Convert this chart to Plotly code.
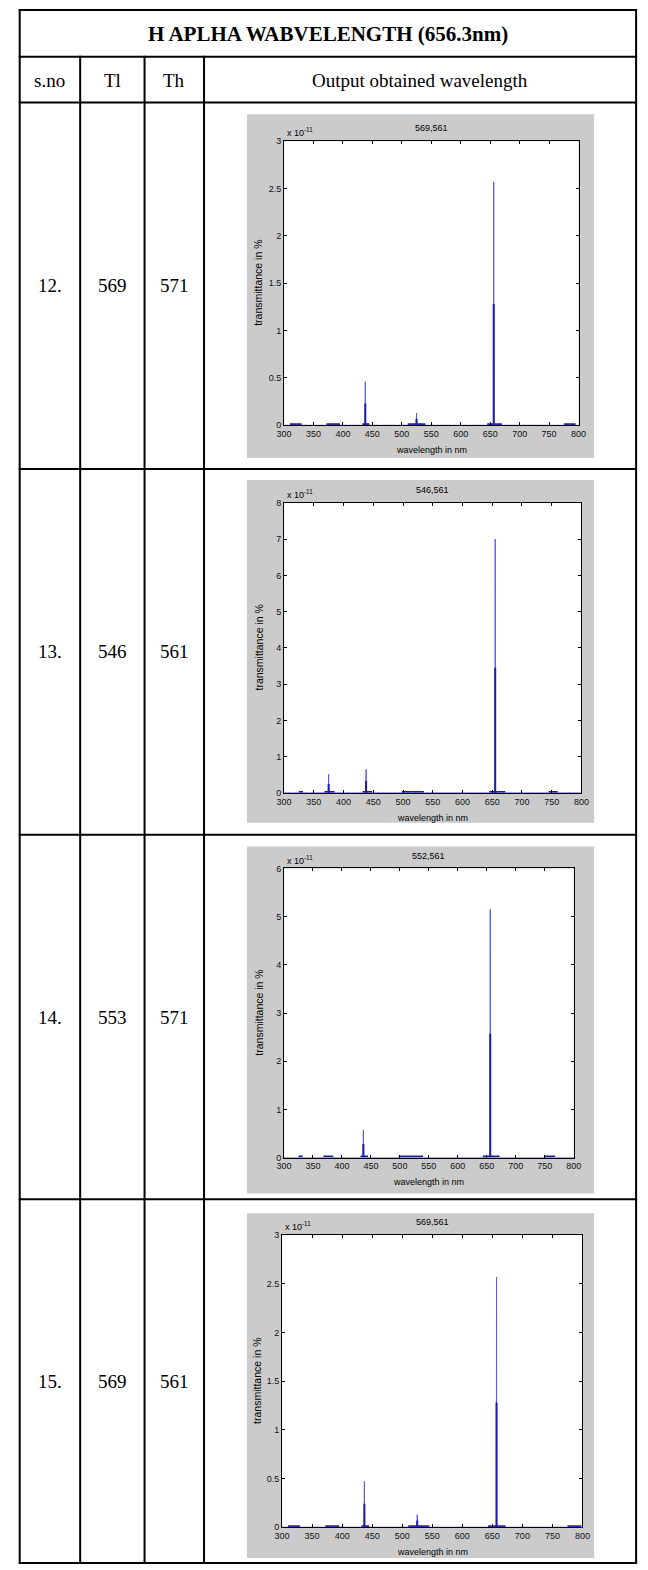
import plotly.graph_objects as go

W, H = 648, 1570

# ---------------- data ----------------
table_title = "H APLHA WABVELENGTH (656.3nm)"
headers = ["s.no", "Tl", "Th", "Output obtained wavelength"]
sno = ["12.", "13.", "14.", "15."]
tl = ["569", "546", "553", "569"]
th = ["571", "561", "571", "561"]

plot_titles = ["569,561", "546,561", "552,561", "569,561"]
y_max = [3, 8, 6, 3]
y_ticks = [
    [0, 0.5, 1, 1.5, 2, 2.5, 3],
    [0, 1, 2, 3, 4, 5, 6, 7, 8],
    [0, 1, 2, 3, 4, 5, 6],
    [0, 0.5, 1, 1.5, 2, 2.5, 3],
]
x_ticks = [300, 350, 400, 450, 500, 550, 600, 650, 700, 750, 800]

# spikes (values in units of 1e-11)
p1_peak_nm = [438, 525, 656]
p1_peak_val = [0.46, 0.13, 2.57]
p1_half_val = [0.23, 0.07, 1.28]
p1_bump_start = [310, 372, 433, 510, 645, 775]
p1_bump_end = [330, 395, 445, 540, 670, 795]

p2_peak_nm = [375, 438, 655]
p2_peak_val = [0.52, 0.65, 7.0]
p2_half_val = [0.25, 0.33, 3.45]
p2_bump_start = [325, 368, 432, 498, 645, 745]
p2_bump_end = [332, 385, 448, 535, 672, 760]

p3_peak_nm = [437, 656]
p3_peak_val = [0.57, 5.15]
p3_half_val = [0.28, 2.57]
p3_bump_start = [325, 368, 432, 498, 643, 750]
p3_bump_end = [332, 385, 445, 540, 672, 768]

p4_peak_nm = [437, 525, 657]
p4_peak_val = [0.47, 0.13, 2.57]
p4_half_val = [0.24, 0.07, 1.28]
p4_bump_start = [310, 372, 432, 510, 643, 775]
p4_bump_end = [330, 395, 445, 545, 672, 798]

peaks_nm = [p1_peak_nm, p2_peak_nm, p3_peak_nm, p4_peak_nm]
peaks_val = [p1_peak_val, p2_peak_val, p3_peak_val, p4_peak_val]
halves_val = [p1_half_val, p2_half_val, p3_half_val, p4_half_val]
bumps_s = [p1_bump_start, p2_bump_start, p3_bump_start, p4_bump_start]
bumps_e = [p1_bump_end, p2_bump_end, p3_bump_end, p4_bump_end]

# ---------------- geometry (pixels) ----------------
col_x = [12, 74, 140, 201, 644]
row_y = [5, 52, 98, 467, 835, 1202, 1568]
gray_boxes = [(245, 601, 110, 456), (245, 601, 478, 823),
              (245, 601, 847, 1196), (245, 601, 1216, 1563)]
axes_boxes = [(283, 585, 137, 423), (283, 588, 501, 793),
              (283, 580, 869, 1160), (281, 589, 1238, 1532)]


def px(x):
    return x / W


def py(y):
    return 1 - y / H


fig = go.Figure()
shapes = []
annotations = []

SERIF = "Liberation Serif, Times New Roman, serif"
SANS = "Liberation Sans, Arial, sans-serif"


def note(text, x, y, size, family, **kw):
    d = dict(text=text, xref="paper", yref="paper", x=px(x), y=py(y),
             xanchor="center", yanchor="middle", showarrow=False,
             font=dict(family=family, size=size, color="black"))
    d.update(kw)
    annotations.append(d)


# table lines
for x in col_x:
    y0 = row_y[1] if x not in (col_x[0], col_x[-1]) else row_y[0]
    shapes.append(dict(type="line", xref="paper", yref="paper",
                       x0=px(x), x1=px(x), y0=py(y0 - 1), y1=py(row_y[-1] + 1),
                       line=dict(color="black", width=2)))
for y in row_y:
    shapes.append(dict(type="line", xref="paper", yref="paper",
                       x0=px(col_x[0] - 1), x1=px(col_x[-1] + 1), y0=py(y), y1=py(y),
                       line=dict(color="black", width=2)))

# table text
note("<b>" + table_title + "</b>", (col_x[0] + col_x[-1]) / 2, (row_y[0] + row_y[1]) / 2 + 1, 21, SERIF)
for i, h in enumerate(headers):
    note(h, (col_x[i] + col_x[i + 1]) / 2, (row_y[1] + row_y[2]) / 2 + 1, 19, SERIF)
for r in range(4):
    yc = (row_y[r + 2] + row_y[r + 3]) / 2
    for c, val in enumerate([sno[r], tl[r], th[r]]):
        note(val, (col_x[c] + col_x[c + 1]) / 2, yc, 19, SERIF)

# plots
for i in range(4):
    gx0, gx1, gy0, gy1 = gray_boxes[i]
    ax0, ax1, ay0, ay1 = axes_boxes[i]
    shapes.append(dict(type="rect", xref="paper", yref="paper", layer="below",
                       x0=px(gx0), x1=px(gx1), y0=py(gy1), y1=py(gy0),
                       fillcolor="#cbcbcb", line=dict(width=0)))
    shapes.append(dict(type="rect", xref="paper", yref="paper", layer="below",
                       x0=px(ax0), x1=px(ax1), y0=py(ay1), y1=py(ay0),
                       fillcolor="white", line=dict(width=0)))

    xa = "x" if i == 0 else f"x{i+1}"
    ya = "y" if i == 0 else f"y{i+1}"
    xkey = "xaxis" if i == 0 else f"xaxis{i+1}"
    ykey = "yaxis" if i == 0 else f"yaxis{i+1}"

    # small baseline clusters
    bx, by = [], []
    lvl = y_max[i] * 0.004
    for s, e in zip(bumps_s[i], bumps_e[i]):
        bx += [s, e, None]
        by += [lvl, lvl, None]
    fig.add_trace(go.Scatter(x=bx, y=by, mode="lines", xaxis=xa, yaxis=ya,
                             line=dict(color="#20208a", width=1.8), showlegend=False,
                             hoverinfo="skip"))
    # thin full-height spectrum
    sx, sy = [300], [0]
    for nm, v in zip(peaks_nm[i], peaks_val[i]):
        sx += [nm - 0.4, nm, nm + 0.4]
        sy += [0, v, 0]
    sx.append(800)
    sy.append(0)
    fig.add_trace(go.Scatter(x=sx, y=sy, mode="lines", xaxis=xa, yaxis=ya,
                             line=dict(color="#5a5af2", width=1), showlegend=False,
                             hoverinfo="skip"))
    # dense half-height part
    hx, hy = [], []
    for nm, v in zip(peaks_nm[i], halves_val[i]):
        hx += [nm, nm, None]
        hy += [0, v, None]
    fig.add_trace(go.Scatter(x=hx, y=hy, mode="lines", xaxis=xa, yaxis=ya,
                             line=dict(color="#1c1caa", width=2), showlegend=False,
                             hoverinfo="skip"))

    axis_common = dict(showline=True, linecolor="black", linewidth=1, mirror="ticks",
                       ticks="inside", ticklen=3, tickcolor="black", showgrid=False,
                       zeroline=False, tickfont=dict(family=SANS, size=9, color="#111111"))
    fig.update_layout(**{
        xkey: dict(domain=[px(ax0), px(ax1)], range=[300, 800], anchor=ya,
                   tickvals=x_ticks, ticktext=[str(t) for t in x_ticks], **axis_common),
        ykey: dict(domain=[py(ay1), py(ay0)], range=[0, y_max[i]], anchor=xa,
                   tickvals=y_ticks[i], ticktext=[f"{t:g}" for t in y_ticks[i]], **axis_common),
    })

    cx = (ax0 + ax1) / 2
    note(plot_titles[i], cx, ay0 - 13, 9, SANS)
    note("wavelength in nm", cx, ay1 + 25, 9, SANS)
    note("transmittance in %", ax0 - 26, (ay0 + ay1) / 2, 10.5, SANS, textangle=-90)
    note("x 10<sup>-11</sup>", ax0 + 1, ay0 - 9, 9, SANS, xanchor="left")

fig.update_layout(width=W, height=H, margin=dict(l=0, r=0, t=0, b=0),
                  paper_bgcolor="white", plot_bgcolor="rgba(0,0,0,0)",
                  shapes=shapes, annotations=annotations, showlegend=False)

fig.write_html("out.html", config={"displayModeBar": False},
               post_script="document.body.style.margin='0';")
